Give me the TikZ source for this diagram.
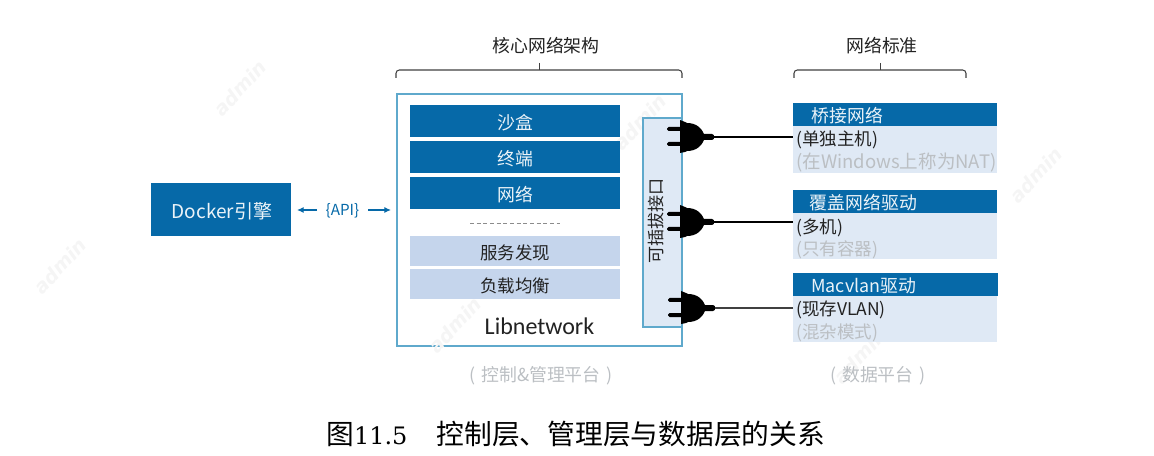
\documentclass[tikz,border=0pt]{standalone}
\usepackage{fontspec}
\setmainfont{Noto Sans CJK SC}
\newfontfamily\latinfont{DejaVu Serif}
\newfontfamily\wmfont{DejaVu Sans}
\newfontfamily\calfont{Carlito}
\usetikzlibrary{arrows.meta}
\definecolor{dblue}{HTML}{0669A8}
\definecolor{lblue}{HTML}{DFE9F5}
\definecolor{mblue}{HTML}{C5D5EC}
\definecolor{edgeblue}{HTML}{5FA9CC}
\definecolor{graytxt}{HTML}{BBBFC3}
\definecolor{darktxt}{HTML}{222222}
\tikzset{
  x=0.75pt,y=-0.75pt,
  bar/.style={fill=dblue,draw=none,text=white!92!dblue,font=\fontsize{13.4pt}{15pt}\selectfont},
  lightbar/.style={fill=mblue,draw=none,text=darktxt,font=\fontsize{13.1pt}{15pt}\selectfont},
  pane/.style={fill=lblue,draw=none},
  head/.style={anchor=center,inner sep=0,text=darktxt,font=\fontsize{13.4pt}{15pt}\selectfont},
  sub/.style={anchor=west,inner sep=0,text=darktxt,font=\fontsize{13.1pt}{15pt}\selectfont},
  subgray/.style={sub,text=graytxt},
  note/.style={anchor=center,inner sep=0,text=graytxt,font=\fontsize{13.4pt}{15pt}\selectfont},
  brace/.style={draw=black!75,line width=0.8pt,rounded corners=2.5pt},
  wire/.style={draw=black,line width=0.9pt},
  api/.style={draw=dblue,line width=0.8pt,-{Latex[length=5pt,width=4.5pt]}},
  wm/.style={anchor=center,inner sep=0,rotate=47,text=black!4,font=\wmfont\bfseries\itshape\fontsize{14.5pt}{16pt}\selectfont},
}
\newcommand{\rectnode}[7]{% name, style, x0,y0,x1,y1,text
  \path[#2] (#3,#4) rectangle (#5,#6);
  \node[inner sep=0,anchor=center,#2,fill=none] (#1) at ({(#3+#5)/2},{(#4+#6)/2+1.5}) {#7};
}
\newcommand{\plug}[3]{% name, x of left prong, y center
  \coordinate (#1) at (#2+47,#3);
  \fill[black,rounded corners=1.2pt] (#2,#3-10) rectangle (#2+16,#3-6);
  \fill[black,rounded corners=1.2pt] (#2,#3+5) rectangle (#2+16,#3+9);
  \fill[black] (#2+13,#3-17) -- (#2+18,#3-15) -- (#2+20,#3-14) .. controls (#2+30,#3-14) and (#2+35,#3-8) .. (#2+37,#3-3) -- (#2+45,#3-3)
     .. controls (#2+48,#3-3) and (#2+48,#3+3) .. (#2+45,#3+3) -- (#2+37,#3+3) .. controls (#2+35,#3+8) and (#2+30,#3+14) .. (#2+20,#3+14) -- (#2+18,#3+15) -- (#2+13,#3+16) -- cycle;
}
\begin{document}
\begin{tikzpicture}
\useasboundingbox (0,0) rectangle (1154,456);
% libnetwork frame
\draw[edgeblue,line width=1pt,fill=white] (397,94) rectangle (682,346);
% watermarks
\node[wm] (w1) at (240,88) {admin};
\node[wm] (w2) at (60,266) {admin};
\node[wm] (w3) at (1036,175) {admin};
\node[wm] (w4) at (640,122) {admin};
\node[wm] (w5) at (455,325) {admin};
\node[wm] (w6) at (860,356) {admin};
% headers & braces
\node[head] (t1) at (546,46) {核心网络架构};
\node[head] (t2) at (882,46) {网络标准};
\draw[brace] (396,78) -- (396,70) -- (682,70) -- (682,78);
\draw[brace,rounded corners=0pt] (539.5,63) -- (539.5,70);
\draw[brace] (794,78) -- (794,70) -- (966,70) -- (966,78);
\draw[brace,rounded corners=0pt] (880.5,63) -- (880.5,70);
% docker
\rectnode{docker}{bar,font=\fontsize{14.3pt}{15pt}\selectfont}{151}{183}{293}{236}{Docker引擎}
\path[fill=white] (291,183) rectangle (293.5,236);
\node[inner sep=0,text=dblue,font=\fontsize{11.4pt}{13pt}\selectfont] (apilab) at (342.5,211) {\{API\}};
\coordinate (apil) at (297,210);
\coordinate (apir) at (391,210);
\draw[api] (317,210) -- (apil);
\draw[api] (368,210) -- (apir);
% libnetwork contents
\rectnode{b1}{bar}{410}{105}{620}{137}{沙盒}
\rectnode{b2}{bar}{410}{141}{620}{173}{终端}
\rectnode{b3}{bar}{410}{177}{620}{209}{网络}
\draw[black!45,densely dashed,line width=0.5pt] (470,223) -- (560,223);
\rectnode{b4}{lightbar}{410}{236}{620}{266}{服务发现}
\rectnode{b5}{lightbar}{410}{269}{620}{299}{负载均衡}
\node[inner sep=0,text=darktxt,font=\calfont\fontsize{18pt}{19pt}\selectfont] (lib) at (539.5,326.5) {Libnetwork};
% plug interface
\draw[edgeblue,line width=1pt,fill=lblue] (643,118) rectangle (682,327);
\node[inner sep=0,rotate=90,text=darktxt,font=\fontsize{12.8pt}{14pt}\selectfont] (plugif) at (656,221) {可插拔接口};
% right panes
\path[pane] (793,126) rectangle (997,173);
\rectnode{h1}{bar}{793}{103}{997}{126}{\hspace*{-71pt}桥接网络}
\node[sub] (s1) at (796,140) {(单独主机)};
\node[subgray,font=\fontsize{13.9pt}{15pt}\selectfont] (g1) at (796,163) {(在Windows上称为NAT)};
\path[pane] (793,213) rectangle (997,259);
\rectnode{h2}{bar}{793}{190}{997}{213}{\hspace*{-47.5pt}覆盖网络驱动}
\node[sub] (s2) at (796,228) {(多机)};
\node[subgray] (g2) at (796,250) {(只有容器)};
\path[pane] (793,296) rectangle (997,342);
\rectnode{h3}{bar}{793}{273}{998}{296}{\hspace*{-47.5pt}Macvlan驱动}
\node[sub] (s3) at (796,310) {(现存VLAN)};
\node[subgray] (g3) at (796,333) {(混杂模式)};
% plugs and wires
\plug{p1}{667}{137}
\plug{p2}{667}{222}
\plug{p3}{668}{308}
\coordinate (e1) at (793,137);
\coordinate (e2) at (793,222);
\coordinate (e3) at (793,308);
\draw[wire] (p1) -- (e1);
\draw[wire] (p2) -- (e2);
\draw[wire,draw=black!75] (p3) -- (e3);
% notes
\node[note] (n1) at (541,376) {(\hspace{4pt}控制\&管理平台\hspace{4pt})};
\node[note] (n2) at (878,376) {(\hspace{4pt}数据平台\hspace{4pt})};
% caption
\node[inner sep=0,anchor=west,text=black,font=\fontsize{20.8pt}{22pt}\selectfont] (cap) at (326,434) {图{\latinfont\fontsize{18pt}{22pt}\selectfont 11.5}\hspace{22pt}控制层、管理层与数据层的关系};
\end{tikzpicture}
\end{document}
